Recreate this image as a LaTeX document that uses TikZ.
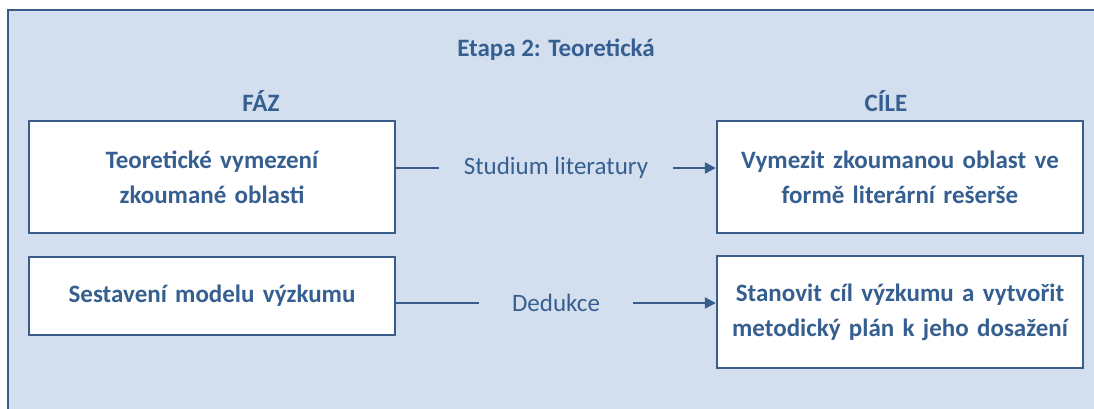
\documentclass[tikz,border=0pt]{standalone}
\usepackage{fontspec}
\setmainfont{Carlito}
\usetikzlibrary{arrows.meta}
\definecolor{panel}{RGB}{211,223,238}
\definecolor{ink}{RGB}{54,95,145}
\definecolor{edge}{RGB}{56,93,138}
\tikzset{
  stagebox/.style={draw=edge, line width=2.4pt, fill=white, minimum width=366pt,
    text width=340pt, align=center, inner sep=0pt, text=ink,
    font=\fontsize{25}{35}\selectfont\bfseries},
  heading/.style={text=ink, inner sep=0pt, font=\fontsize{25}{30}\selectfont\bfseries},
  link/.style={draw=edge, line width=2.2pt},
  linklabel/.style={fill=panel, text=ink, inner ysep=2pt, font=\fontsize{25}{30}\selectfont}
}
\begin{document}
\begin{tikzpicture}[x=1pt, y=-1pt]
  \useasboundingbox (0,0) rectangle (1094,408);
  \clip (0,0) rectangle (1094,408);
  % panel
  \draw[draw=edge, line width=2.4pt, fill=panel] (8,10) rectangle (1120,440);
  % headings
  \node[heading] (title) at (556,50) {Etapa 2: Teoretická};
  \node[heading] (faz) at (261,101) {FÁZ};
  \node[heading] (cile) at (886,101) {CÍLE};
  % phase boxes
  \node[stagebox, minimum height=112pt] (theory) at (212,177) {Teoretické vymezení\\zkoumané oblasti};
  \node[stagebox, minimum height=78pt] (model) at (212,296) {Sestavení modelu výzkumu};
  % goal boxes
  \node[stagebox, minimum height=112pt] (scope) at (900,177) {Vymezit zkoumanou oblast ve\\formě literární rešerše};
  \node[stagebox, minimum height=112pt] (aim) at (900,312) {Stanovit cíl výzkumu a vytvořit\\metodický plán k jeho dosažení};
  % connector rows
  \coordinate (row1) at (556,168);
  \coordinate (row2) at (556,303);
  \draw[link, -{Triangle[length=11pt, width=11pt]}] (theory.east |- row1) -- (scope.west |- row1)
    node[midway, linklabel, inner xsep=25pt] (lit) {Studium literatury};
  \draw[link, -{Triangle[length=11pt, width=11pt]}] (model.east |- row2) -- (aim.west |- row2)
    node[midway, linklabel, inner xsep=33pt] (ded) {Dedukce};
\end{tikzpicture}
\end{document}
